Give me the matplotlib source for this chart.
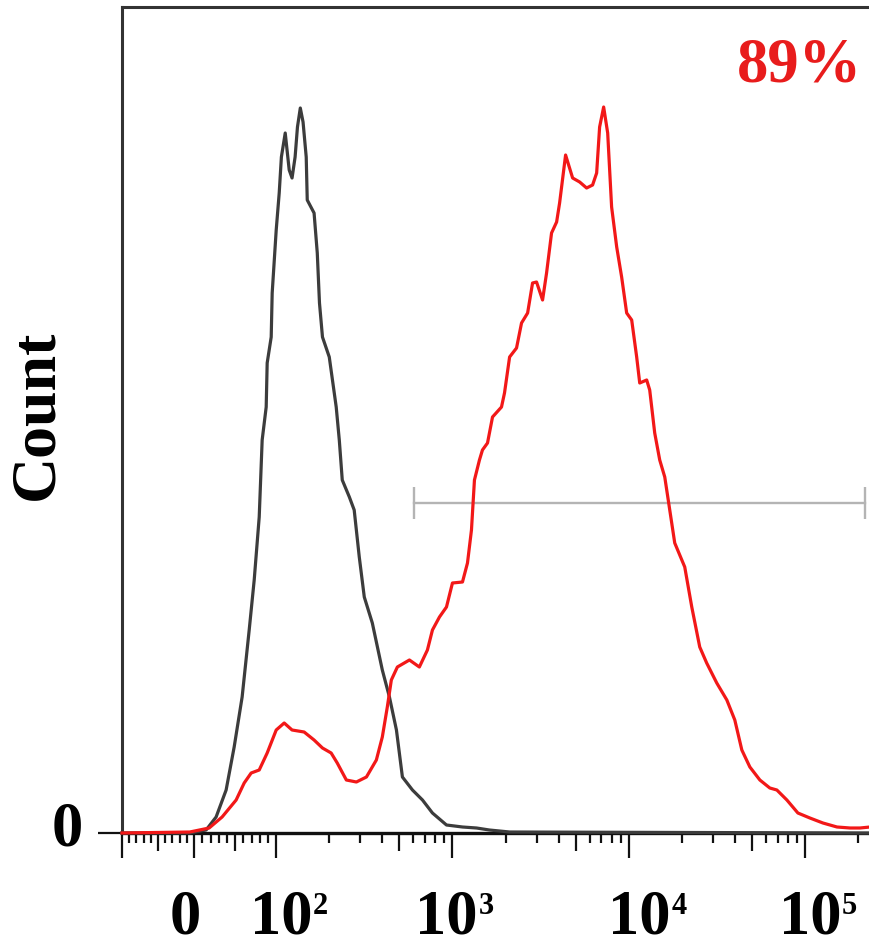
import numpy as np
import matplotlib
matplotlib.use('Agg')
import matplotlib.pyplot as plt
from matplotlib.ticker import NullFormatter
from matplotlib.transforms import blended_transform_factory

plt.rcParams['font.family'] = 'Liberation Serif'
plt.rcParams['font.weight'] = 'bold'

# grey histogram (control) : fluorescence, count
ctrl_x = [-100, -6, 14.6, 26.8, 39, 48.8, 58.5, 67.1, 73.2, 79.3, 82.9, 87.8, 89, 93.9, 95.1, 100,
          104, 107, 112.5, 118.5, 123, 128, 132, 137, 142, 148, 150, 164, 171, 176, 183, 200, 219,
          228, 237, 260, 277, 296, 316, 351, 400, 439, 481, 520, 593, 676, 770, 925, 1140, 1370,
          1620, 2110, 234000]
ctrl_y = [0, 0, 3, 16, 43, 86, 136, 203, 253, 316, 393, 426, 470, 496, 540, 603,
          640, 676, 700, 663, 655, 676, 706, 725, 711, 676, 633, 620, 580, 530, 496, 476, 426,
          393, 353, 336, 323, 276, 236, 210, 163, 136, 103, 56, 43, 33, 20, 8, 6, 5,
          3, 1, 0]

# red histogram (stained sample)
samp_x = [-100, -6, 18.3, 34.1, 51.2, 61, 69.5, 79.3, 89, 100, 111, 123, 144, 164, 183, 205, 222,
          250, 285, 325, 370, 400, 427, 450, 487, 570, 649, 721, 770, 844, 925, 1000, 1140, 1217,
          1282, 1333, 1423, 1480, 1581, 1688, 1898, 1974, 2110, 2310, 2466, 2670, 2848, 3000,
          3246, 3420, 3650, 3900, 4055, 4385, 4807, 5270, 5770, 6240, 6580, 6840, 7210, 7600,
          8000, 8550, 9120, 9740, 10400, 11100, 11550, 12650, 13160, 14050, 15000, 16020, 17100,
          18250, 20800, 22800, 25300, 27700, 31600, 36050, 40000, 43850, 48700, 55500, 63200,
          69300, 79000, 91200, 106700, 126500, 152000, 180300, 205400, 234000]
samp_y = [0, 1, 5, 16, 33, 50, 60, 63, 80, 103, 110, 103, 101, 93, 85, 80, 70,
          53, 51, 56, 73, 96, 126, 153, 166, 173, 166, 183, 203, 216, 226, 250, 251, 270,
          303, 353, 373, 383, 390, 416, 426, 440, 476, 485, 510, 520, 550, 551,
          533, 560, 600, 611, 630, 678, 655, 651, 645, 648, 660, 706, 726, 700,
          626, 586, 556, 520, 513, 476, 450, 453, 443, 400, 373, 356, 323,
          290, 266, 226, 186, 170, 150, 133, 113, 83, 66, 53, 45,
          43, 33, 20, 15, 10, 6, 5, 5, 6]

# positive gate
gate_x = [608, 219300]
gate_y = [330, 330]
gate_label = '89%'

major = [-100, 0, 100, 1e3, 1e4, 1e5]
medium = [-50, 50, 500, 5e3, 5e4]
exps = ['2', '3', '4', '5']
label_shift = [5, -6, 11, 5]


# biexponential-like display scale
def fwd(x):
    x = np.asarray(x, float)
    with np.errstate(divide='ignore', invalid='ignore'):
        lg = 82 + 176 * np.log10(np.maximum(x, 1e-9) / 100)
    return np.where(x < 0, 0.72 * x, np.where(x <= 100, 0.82 * x, lg))


def inv(y):
    y = np.asarray(y, float)
    lg = 100 * 10 ** ((np.clip(y, 82, 2000) - 82) / 176)
    return np.where(y < 0, y / 0.72, np.where(y <= 82, y / 0.82, lg))


fig = plt.figure(figsize=(8.7, 9.42), dpi=100)
ax = fig.add_axes([122 / 870, 109 / 942, 748 / 870, 826 / 942])
ax.set_xscale('function', functions=(fwd, inv))
ax.set_xlim(-100, 234000)
ax.set_ylim(0, 826)

ax.plot(ctrl_x, ctrl_y, color='#3c3c3c', lw=2.3, zorder=3, clip_on=False)
ax.plot(samp_x, samp_y, color='#f21818', lw=2.3, zorder=4, clip_on=False)
ax.errorbar(gate_x, gate_y, yerr=16, color='#b4b4b4', lw=1.7, elinewidth=1.7, zorder=2)

# ticks
minor = [v for v in range(-90, 100, 10) if v not in (-50, 0, 50)]
for dec in [100, 1e3, 1e4, 1e5]:
    minor += [dec * k for k in range(2, 10) if k != 5 and dec * k <= 234000]
ticks = sorted(major + medium + minor)
ax.set_xticks(ticks)
ax.xaxis.set_major_formatter(NullFormatter())
ax.tick_params(axis='x', direction='out', width=1.6, length=7, color='#111111')
for t, tk in zip(ticks, ax.xaxis.get_major_ticks(len(ticks))):
    if t in major:
        tk.tick1line.set_markersize(18)
    elif t in medium:
        tk.tick1line.set_markersize(13)
ax.set_yticks([0])
ax.yaxis.set_major_formatter(NullFormatter())
ax.tick_params(axis='y', direction='out', width=1.6, length=17, color='#111111')

for side in ['left', 'top']:
    ax.spines[side].set_color('#333333')
    ax.spines[side].set_linewidth(2.2)
ax.spines['bottom'].set_color('#111111')
ax.spines['bottom'].set_linewidth(2.4)
ax.spines['right'].set_visible(False)

# tick labels
tr = blended_transform_factory(ax.transData, ax.transAxes)
ax.annotate('0', xy=(0, 0), xycoords=tr, xytext=(-9, -101), textcoords='offset pixels',
            ha='center', va='baseline', fontsize=45, annotation_clip=False)
for d, e, s in zip(major[2:], exps, label_shift):
    ax.annotate('10', xy=(d, 0), xycoords=tr, xytext=(s, -101), textcoords='offset pixels',
                ha='center', va='baseline', fontsize=45, annotation_clip=False)
    ax.annotate(e, xy=(d, 0), xycoords=tr, xytext=(s + 32, -81), textcoords='offset pixels',
                ha='left', va='baseline', fontsize=22, annotation_clip=False)
ax.annotate('0', xy=(0, 0), xycoords='axes fraction', xytext=(-55, -12),
            textcoords='offset pixels', ha='center', va='baseline', fontsize=45,
            annotation_clip=False)

fig.text(37 / 870, 1 - 415 / 942, 'Count', rotation=90, ha='center', va='center', fontsize=46)
fig.text(799 / 870, 1 - 82 / 942, gate_label, color='#e81c1c', ha='center', va='baseline',
         fontsize=45)

fig.savefig('out.png', dpi=100)
